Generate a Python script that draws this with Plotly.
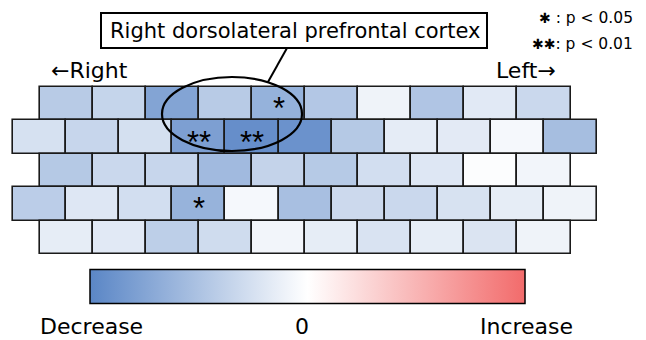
import plotly.graph_objects as go

# ---- data (channel values, -1 = strongest decrease, +1 = strongest increase)
row1 = [-0.43, -0.35, -0.75, -0.43, -0.64, -0.46, -0.10, -0.48, -0.18, -0.32]
row2 = [-0.25, -0.34, -0.26, -0.79, -0.93, -0.90, -0.45, -0.16, -0.17, -0.06, -0.54]
row3 = [-0.45, -0.32, -0.34, -0.57, -0.36, -0.44, -0.27, -0.20, -0.02, -0.08]
row4 = [-0.41, -0.20, -0.27, -0.63, -0.06, -0.53, -0.31, -0.32, -0.24, -0.15, -0.10]
row5 = [-0.15, -0.18, -0.40, -0.29, -0.08, -0.15, -0.23, -0.15, -0.22, -0.10]
rows = [row1, row2, row3, row4, row5]
row_offsets = [0.5, 0.0, 0.5, 0.0, 0.5]   # brick layout shift, in cell units

sig1 = ["", "", "", "", "*", "", "", "", "", ""]
sig2 = ["", "", "", "**", "**", "", "", "", "", "", ""]
sig3 = [""] * 10
sig4 = ["", "", "", "*", "", "", "", "", "", "", ""]
sig5 = [""] * 10
sigs = [sig1, sig2, sig3, sig4, sig5]

colorbar_labels = ["Decrease", "0", "Increase"]
region_label = "Right dorsolateral prefrontal cortex"
legend_marks = ["*", "**"]
legend_texts = [" : p < 0.05", ": p < 0.01"]

LEGEND_STAR = "\u2731"

# ---- build bar inputs
xs, bases, ys, vals = [], [], [], []
for r, (vals_r, off) in enumerate(zip(rows, row_offsets)):
    for i, v in enumerate(vals_r):
        xs.append(1)
        bases.append(off + i)
        ys.append(r)
        vals.append(v)

# ---- pixel <-> data mapping (plot area covers whole figure)
W, H = 646, 340
CELL_W = 53.1
ROW_H = 33.4
X0_PX = 13.0      # left edge of the 11-cell rows
Y0_PX = 87.0      # top edge of first row

def dx(px):
    return (px - X0_PX) / CELL_W

def dy(py):
    return (py - Y0_PX) / ROW_H - 0.5

FONT = "DejaVu Sans, Arial, sans-serif"
STAR_FONT = "Liberation Sans, Arial, sans-serif"
colorscale = [[0.0, "#5a86c6"], [0.5, "#ffffff"], [1.0, "#f26b6b"]]

fig = go.Figure()
fig.add_trace(go.Bar(
    x=xs, base=bases, y=ys, orientation="h", width=1.0,
    marker=dict(
        color=vals, colorscale=colorscale, cmin=-1, cmax=1,
        line=dict(color="#1a1a1a", width=1.6),
        showscale=True,
        colorbar=dict(
            orientation="h", xref="container", yref="container",
            x=(90 + 525) / 2 / W, xanchor="center",
            y=1 - 305 / H, yanchor="bottom",
            lenmode="pixels", len=435, thicknessmode="pixels", thickness=34,
            outlinewidth=1.5, outlinecolor="black",
            showticklabels=False, ticks="", xpad=0, ypad=0,
        ),
    ),
    hoverinfo="skip", showlegend=False,
))

ann = []
# significance stars
for r, (sig_r, off) in enumerate(zip(sigs, row_offsets)):
    for i, s in enumerate(sig_r):
        if s:
            ann.append(dict(x=off + i + 0.5, y=r, text=s,
                            showarrow=False, xref="x", yref="y", yshift=-5,
                            font=dict(size=31, color="black", family=STAR_FONT)))

# text labels
ann.append(dict(x=dx(295), y=dy(31), text=region_label, showarrow=False,
                font=dict(size=21, color="black", family=FONT)))
ann.append(dict(x=dx(49), y=dy(70), text="\u2190Right", showarrow=False, xanchor="left",
                font=dict(size=22, color="black", family=FONT)))
ann.append(dict(x=dx(558), y=dy(70), text="Left\u2192", showarrow=False, xanchor="right",
                font=dict(size=22, color="black", family=FONT)))
for mark, txt, py in zip(legend_marks, legend_texts, [18, 44]):
    ann.append(dict(x=dx(635), y=dy(py),
                    text="<span style='font-size:14px'>" + mark.replace("*", LEGEND_STAR)
                         + "</span>" + txt,
                    showarrow=False, xanchor="right",
                    font=dict(size=15.5, color="black", family=FONT)))
for lbl, px in zip(colorbar_labels, [91, 302, 526]):
    ann.append(dict(x=dx(px), y=dy(326), text=lbl, showarrow=False,
                    font=dict(size=22, color="black", family=FONT)))

shapes = [
    dict(type="rect", x0=dx(101), x1=dx(487), y0=dy(13), y1=dy(48),
         line=dict(color="black", width=2), fillcolor="white", layer="above"),
    dict(type="circle", x0=dx(162), x1=dx(302), y0=dy(77), y1=dy(151),
         line=dict(color="black", width=2.2), layer="above"),
    dict(type="line", x0=dx(287), y0=dy(48), x1=dx(268), y1=dy(82),
         line=dict(color="black", width=2), layer="above"),
]

fig.update_layout(
    width=W, height=H, margin=dict(l=0, r=0, t=0, b=0, autoexpand=False),
    paper_bgcolor="white", plot_bgcolor="white",
    xaxis=dict(range=[dx(0), dx(W)], visible=False, fixedrange=True),
    yaxis=dict(range=[dy(H), dy(0)], visible=False, fixedrange=True),
    annotations=ann, shapes=shapes, bargap=0,
)

fig.write_html("out.html")
